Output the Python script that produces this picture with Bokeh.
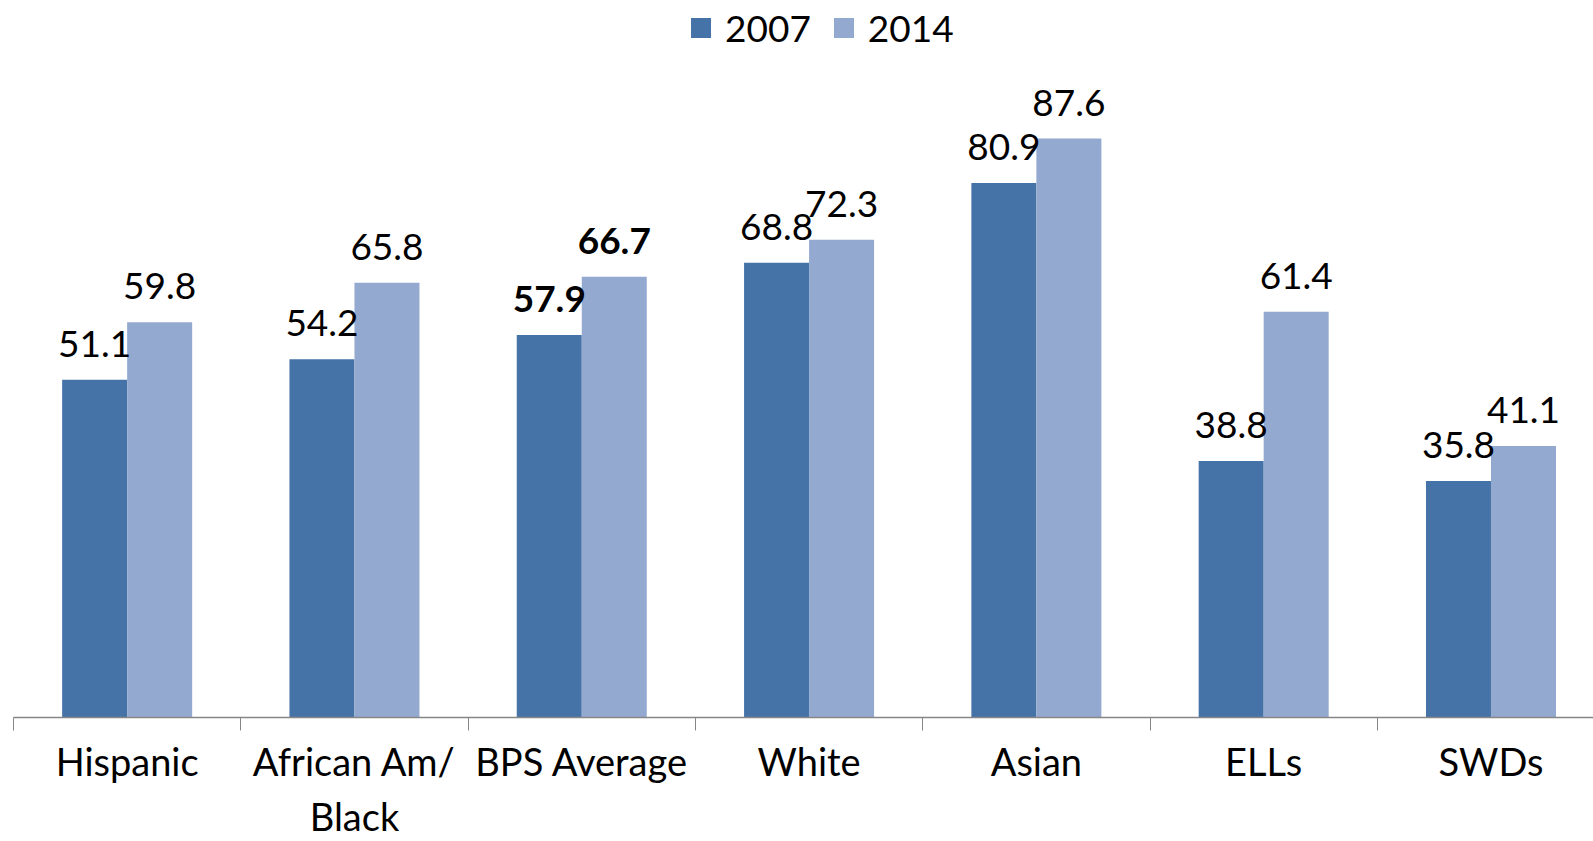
from bokeh.plotting import figure
from bokeh.models import ColumnDataSource, Range1d, FixedTicker, Legend, LegendItem
from bokeh.core.properties import value
from bokeh.embed import file_html
from bokeh.resources import INLINE

categories = ["Hispanic", "African Am/\nBlack", "BPS Average", "White", "Asian", "ELLs", "SWDs"]
series_names = ["2007", "2014"]
values_2007 = [51.1, 54.2, 57.9, 68.8, 80.9, 38.8, 35.8]
values_2014 = [59.8, 65.8, 66.7, 72.3, 87.6, 61.4, 41.1]
highlight = "BPS Average"

C07 = "#4673A7"
C14 = "#94A9D0"
FONT = "Lato"
FS = "37px"

n = len(categories)
centers = [i + 0.5 for i in range(n)]
bw = 0.286
styles = ["bold" if c == highlight else "normal" for c in categories]

src07 = ColumnDataSource(dict(x=[c - bw / 2 for c in centers], top=values_2007,
                              label=[f"{v:.1f}" for v in values_2007], style=styles))
src14 = ColumnDataSource(dict(x=[c + bw / 2 for c in centers], top=values_2014,
                              label=[f"{v:.1f}" for v in values_2014], style=styles))

p = figure(width=1593, height=841, output_backend="svg", toolbar_location=None,
           x_range=Range1d(0, 6.951), y_range=Range1d(0, 108.5),
           min_border_left=13, min_border_right=0, min_border_top=0, min_border_bottom=100)
p.outline_line_color = None
p.grid.visible = False
p.yaxis.visible = False
p.background_fill_color = "white"

r07 = p.vbar(x="x", top="top", width=bw, bottom=0, source=src07, fill_color=C07, line_color=None)
r14 = p.vbar(x="x", top="top", width=bw, bottom=0, source=src14, fill_color=C14, line_color=None)

for s in (src07, src14):
    p.text(x="x", y="top", text="label", source=s, text_align="center", text_baseline="alphabetic",
           y_offset=-36, text_font=value(FONT), text_font_size=FS, text_color="black",
           text_font_style="style")

ax = p.xaxis[0]
ax.ticker = FixedTicker(ticks=centers, minor_ticks=list(range(n + 1)))
ax.major_label_overrides = {c: lab for c, lab in zip(centers, categories)}
ax.major_tick_out = 0
ax.major_tick_in = 0
ax.minor_tick_out = 13
ax.minor_tick_in = 0
ax.minor_tick_line_color = "#868686"
ax.axis_line_color = "#868686"
ax.axis_line_width = 1.3
ax.major_label_text_font = FONT
ax.major_label_text_font_size = "38px"
ax.major_label_text_color = "black"
ax.major_label_standoff = 7

legend = Legend(items=[LegendItem(label=series_names[0], renderers=[r07]),
                       LegendItem(label=series_names[1], renderers=[r14])],
                orientation="horizontal", location=(675, 667),
                glyph_width=25, glyph_height=25, label_standoff=12, spacing=20,
                padding=0, margin=0, border_line_color=None, background_fill_alpha=0,
                label_text_font=FONT, label_text_font_size=FS, label_text_color="black")
p.add_layout(legend)

open("out.html", "w").write(file_html(p, INLINE))
